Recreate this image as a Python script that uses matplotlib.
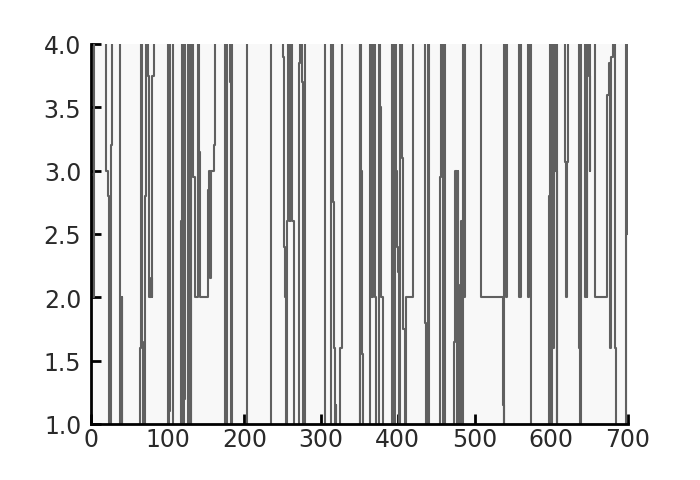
import matplotlib
matplotlib.use("Agg")
import matplotlib.pyplot as plt

H = 5.0   # above the visible range (clipped at top)
L = 0.0   # below the visible range (clipped at bottom)

# step breakpoints: x where the value changes, and the value held from there
step_x = [0, 2, 3, 4, 20, 22, 24, 26, 28, 38, 40, 41, 64, 65, 67, 68, 70, 71, 72, 74,
          76, 78, 79, 80, 82, 100, 101, 102, 103, 107, 117, 118, 120, 121, 122, 126, 128,
          130, 131, 133, 135, 139, 141, 142, 152, 154, 155, 156, 160, 161, 175, 177, 181,
          182, 184, 203, 234, 250, 252, 253, 254, 256, 257, 259, 260, 262, 264, 271, 272,
          275, 277, 279, 305, 313, 315, 316, 317, 318, 319, 320, 325, 327, 350, 351, 352,
          353, 354, 364, 365, 368, 370, 372, 376, 377, 378, 380, 393, 395, 396, 398, 399,
          400, 401, 403, 405, 406, 407, 409, 410, 411, 420, 436, 437, 439, 440, 441, 455,
          456, 459, 460, 461, 473, 474, 477, 478, 479, 481, 482, 483, 485, 486, 487, 508,
          509, 537, 538, 539, 540, 541, 542, 558, 560, 570, 571, 573, 574, 597, 598, 600,
          601, 602, 603, 605, 607, 608, 618, 619, 620, 622, 636, 638, 639, 644, 645, 646,
          647, 649, 650, 651, 657, 672, 673, 675, 676, 678, 680, 683, 685, 697, 699, 700]
step_v = [2.0, 2.95, 2.0, H, 3.0, 2.8, L, 3.2, H, L, 2.0, L, 1.6, H, 1.65, L, 2.35, 2.8, H, 3.75,
          2.0, 2.15, 2.0, 3.75, H, 3.4, L, 1.1, H, L, 2.6, H, L, 1.2, H, L, H,
          L, H, 2.95, 2.0, H, 3.15, 2.0, 2.85, 3.0, 2.15, 3.0, 3.2, H, L, H, 3.7,
          L, H, L, H, 3.9, 2.4, 2.0, L, 2.6, H, 2.6, H, 2.6, L, 3.85, H,
          3.7, L, H, L, H, 3.0, 2.75, 1.6, L, 1.15, L, 1.6, H, L, H, 3.0,
          1.55, L, H, 2.0, H, 2.0, L, H, 3.5, 2.0, L, H, L, H, 3.0, 2.4,
          2.2, L, H, 3.5, 3.1, 1.75, L, 1.75, 2.0, H, 1.8, L, H, 3.85, L, 2.95,
          H, L, H, L, 1.65, 3.0, L, 3.0, L, 2.1, 2.6, L, H, 2.0, H, 2.4,
          2.0, 1.15, L, H, 2.4, 2.0, H, 2.0, H, 2.0, H, 2.2, L, 2.8, H, L,
          H, 1.6, H, 3.0, L, H, 3.07, 2.0, 3.07, H, 1.6, L, H, 2.0, 3.3, 2.0,
          H, 3.75, 3.0, H, 2.0, 2.28, 3.6, 3.85, 1.6, 3.9, H, 1.6, L, H, 2.5, 2.5]

x_ticks = [0, 100, 200, 300, 400, 500, 600, 700]
y_ticks = [1.0, 1.5, 2.0, 2.5, 3.0, 3.5, 4.0]

fig = plt.figure(figsize=(7.0, 4.81), dpi=100)
ax = fig.add_axes([91 / 700, 1 - 425 / 481, 537 / 700, 380 / 481])
ax.set_facecolor("#f8f8f8")

ax.plot(step_x, step_v, drawstyle="steps-post", color="#606060", lw=1.5)

ax.set_xlim(0, 700)
ax.set_ylim(1.0, 4.0)
ax.set_xticks(x_ticks)
ax.set_xticklabels([str(t) for t in x_ticks])
ax.set_yticks(y_ticks)
ax.set_yticklabels([f"{t:.1f}" for t in y_ticks])

for s in ["top", "right"]:
    ax.spines[s].set_visible(False)
for s in ["left", "bottom"]:
    ax.spines[s].set_linewidth(2.0)
    ax.spines[s].set_color("black")

ax.tick_params(direction="in", length=7, width=2, labelsize=17,
               colors="black")
ax.tick_params(axis="x", pad=2)
ax.tick_params(axis="y", pad=7)
for lab in ax.get_xticklabels() + ax.get_yticklabels():
    lab.set_color("#2a2a2a")

fig.savefig("out.png", dpi=100)
